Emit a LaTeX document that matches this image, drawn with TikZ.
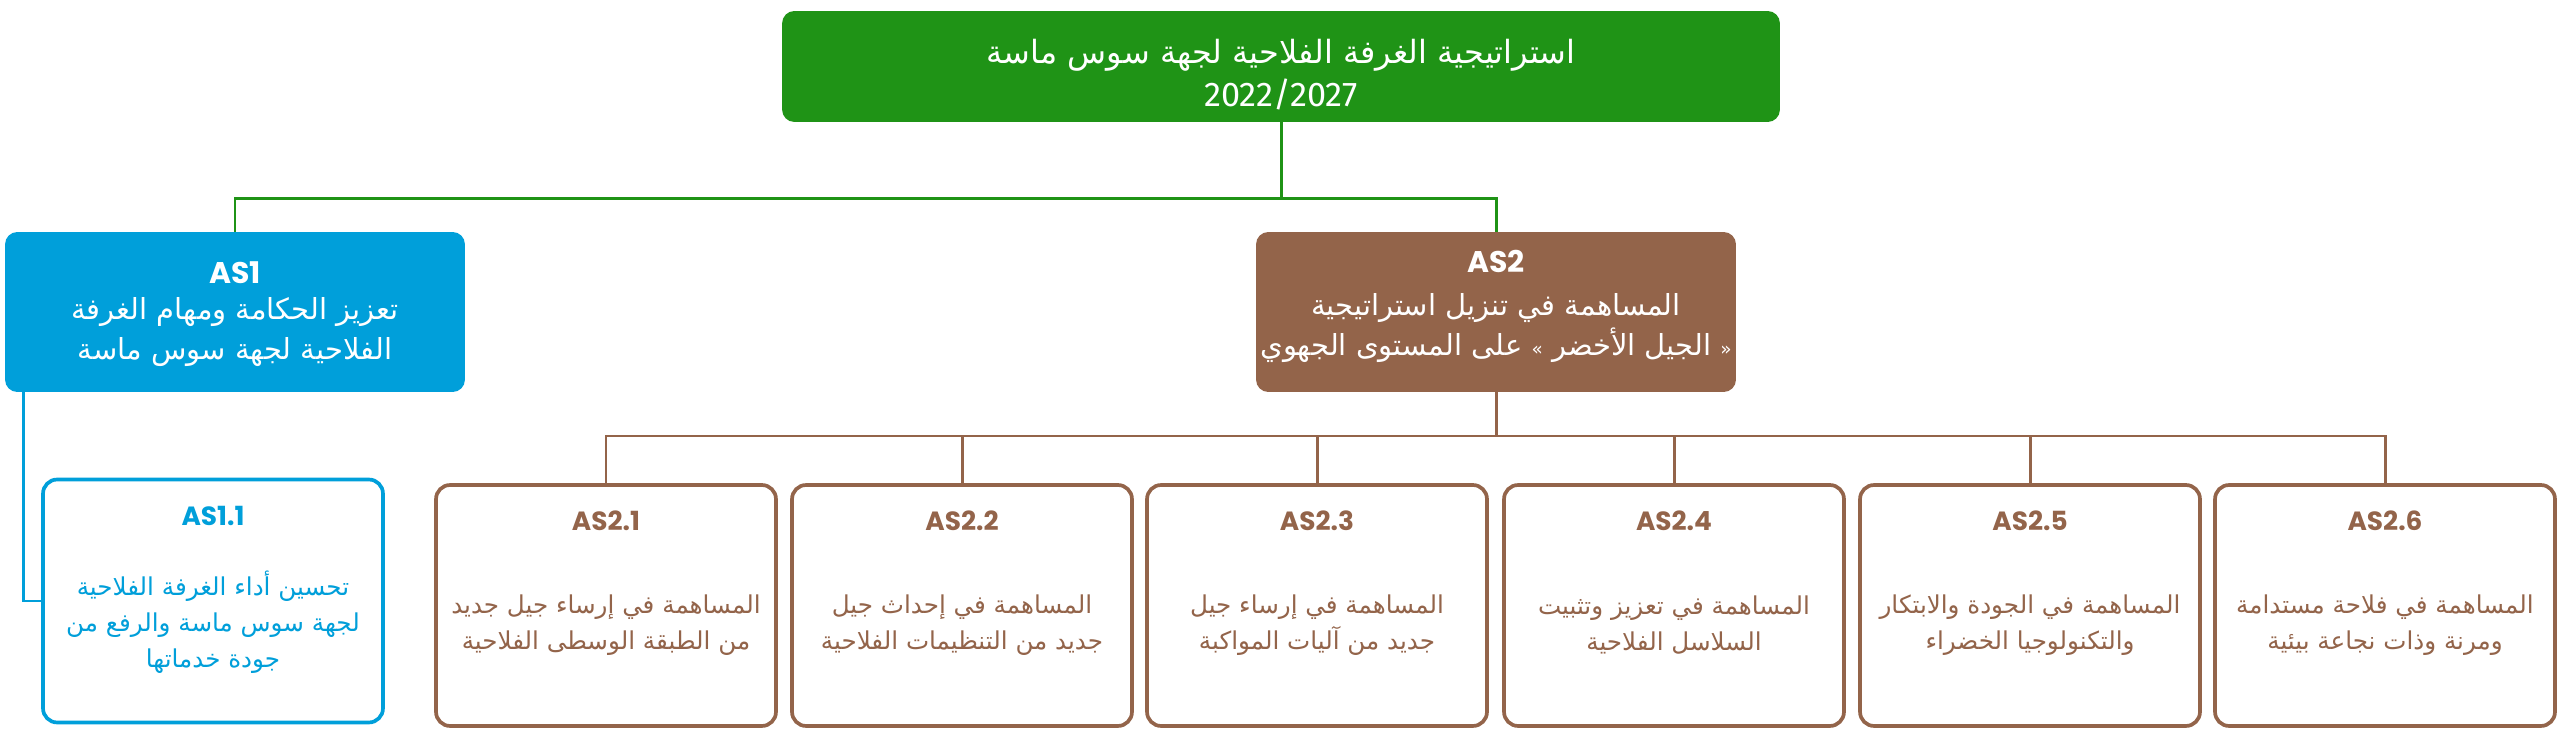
\documentclass[tikz,border=0pt]{standalone}
\usepackage{fontspec}
\setmainfont{DejaVu Sans}
\newfontfamily\arabicfont[Script=Arabic]{DejaVu Sans}
\newfontfamily\codefont{Poppins}
\newfontfamily\yearfont{Fira Sans}
\TeXXeTstate=1
\usetikzlibrary{positioning}
\definecolor{ChamberGreen}{RGB}{31,147,22}
\definecolor{AxeBlue}{RGB}{0,159,218}
\definecolor{AxeBrown}{RGB}{147,100,74}
\newcommand{\arline}[1]{{\arabicfont\beginR #1\endR}}
\newcommand{\smallq}[1]{{\fontsize{10.5}{10.5}\selectfont #1}}
\tikzset{
  topbox/.style={rounded corners=7pt,fill=ChamberGreen,minimum width=19.96cm,
                 minimum height=2.22cm,inner sep=0pt},
  axebox/.style={rounded corners=7pt,minimum width=9.2cm,minimum height=3.2cm,inner sep=0pt},
  axeA/.style={axebox,fill=AxeBlue},
  axeB/.style={axebox,fill=AxeBrown,minimum width=9.6cm},
  subbox/.style={rounded corners=8pt,line width=2.1pt,fill=white,
                 minimum width=6.8cm,minimum height=4.82cm,inner sep=0pt},
  subA/.style={subbox,draw=AxeBlue,minimum height=4.86cm},
  subB/.style={subbox,draw=AxeBrown},
  tagbig/.style={font=\codefont\bfseries\fontsize{17}{20}\selectfont,text=white},
  tagsmall/.style={font=\codefont\bfseries\fontsize{15}{18}\selectfont},
  axetxt/.style={align=center,text=white,font=\fontsize{16.5}{23}\selectfont},
  subtxt/.style={align=center,font=\fontsize{14}{20.5}\selectfont},
  link/.style={line width=1.7pt},
}

\begin{document}
\begin{tikzpicture}[x=0.02cm,y=-0.02cm]
  \useasboundingbox (0,0) rectangle (2560,742);

  \node[topbox] (top) at (1281,66.5) {};
  \node[align=center,text=white,font=\fontsize{18.2}{24.5}\selectfont] (toptxt) at (1281,75)
  {\arline{استراتيجية الغرفة الفلاحية لجهة سوس ماسة}\\{\yearfont\fontsize{19.5}{24.5}\selectfont 2022/2027}};

  \node[axeA] (as1) at (235,312) {};
  \node[tagbig] (as1tag) at (235,273) {AS1};
  \node[axetxt] (as1txt) at (235,332)
  {\arline{تعزيز الحكامة ومهام الغرفة}\\\arline{الفلاحية لجهة سوس ماسة}};

  \node[axeB] (as2) at (1496,312) {};
  \node[tagbig] (as2tag) at (1496,261) {AS2};
  \node[axetxt] (as2txt) at (1496,328)
  {\arline{المساهمة في تنزيل استراتيجية}\\\arline{\smallq{«} الجيل الأخضر \smallq{»} على المستوى الجهوي}};

  \node[subA] (as11) at (213,601) {};
  \node[tagsmall,text=AxeBlue] (as11tag) at (213,516) {AS1.1};
  \node[subtxt,text=AxeBlue] (as11txt) at (213,622)
  {\arline{تحسين أداء الغرفة الفلاحية}\\\arline{لجهة سوس ماسة والرفع من}\\\arline{جودة خدماتها}};

  \node[subB] (as21) at (606,605.5) {};
  \node[tagsmall,text=AxeBrown] (as21tag) at (606,521) {AS2.1};
  \node[subtxt,text=AxeBrown] (as21txt) at (606,625)
  {\arline{المساهمة في إرساء جيل جديد}\\\arline{من الطبقة الوسطى الفلاحية}};

  \node[subB] (as22) at (962,605.5) {};
  \node[tagsmall,text=AxeBrown] (as22tag) at (962,521) {AS2.2};
  \node[subtxt,text=AxeBrown] (as22txt) at (962,625)
  {\arline{المساهمة في إحداث جيل}\\\arline{جديد من التنظيمات الفلاحية}};

  \node[subB] (as23) at (1317,605.5) {};
  \node[tagsmall,text=AxeBrown] (as23tag) at (1317,521) {AS2.3};
  \node[subtxt,text=AxeBrown] (as23txt) at (1317,625)
  {\arline{المساهمة في إرساء جيل}\\\arline{جديد من آليات المواكبة}};

  \node[subB] (as24) at (1674,605.5) {};
  \node[tagsmall,text=AxeBrown] (as24tag) at (1674,521) {AS2.4};
  \node[subtxt,text=AxeBrown] (as24txt) at (1674,625)
  {\arline{المساهمة في تعزيز وتثبيت}\\\arline{السلاسل الفلاحية}};

  \node[subB] (as25) at (2030,605.5) {};
  \node[tagsmall,text=AxeBrown] (as25tag) at (2030,521) {AS2.5};
  \node[subtxt,text=AxeBrown] (as25txt) at (2030,625)
  {\arline{المساهمة في الجودة والابتكار}\\\arline{والتكنولوجيا الخضراء}};

  \node[subB] (as26) at (2385,605.5) {};
  \node[tagsmall,text=AxeBrown] (as26tag) at (2385,521) {AS2.6};
  \node[subtxt,text=AxeBrown] (as26txt) at (2385,625)
  {\arline{المساهمة في فلاحة مستدامة}\\\arline{ومرنة وذات نجاعة بيئية}};

  \coordinate (gbus) at (1281,199);
  \draw[link,ChamberGreen] (top.south) -- (gbus) -| (as1.north);
  \draw[link,ChamberGreen] (gbus) -| (as2.north);

  \coordinate (bbus) at (1496,436);
  \draw[link,AxeBrown] (as2.south) -- (bbus) -| (as21.north);
  \draw[link,AxeBrown] (bbus) -| (as22.north);
  \draw[link,AxeBrown] (bbus) -| (as23.north);
  \draw[link,AxeBrown] (bbus) -| (as24.north);
  \draw[link,AxeBrown] (bbus) -| (as25.north);
  \draw[link,AxeBrown] (bbus) -| (as26.north);

  \draw[link,AxeBlue] ([xshift=0.38cm]as1.south west) |- (as11.west);
\end{tikzpicture}
\end{document}
